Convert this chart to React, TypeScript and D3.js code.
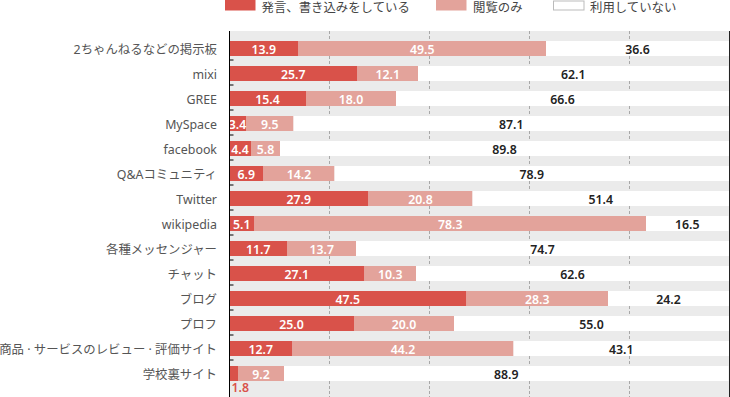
import React from "react";
import * as d3 from "d3";

const categories = [
  "2ちゃんねるなどの掲示板",
  "mixi",
  "GREE",
  "MySpace",
  "facebook",
  "Q&Aコミュニティ",
  "Twitter",
  "wikipedia",
  "各種メッセンジャー",
  "チャット",
  "ブログ",
  "プロフ",
  "商品 · サービスのレビュー · 評価サイト",
  "学校裏サイト",
];
const posting = [13.9, 25.7, 15.4, 3.4, 4.4, 6.9, 27.9, 5.1, 11.7, 27.1, 47.5, 25.0, 12.7, 1.8];
const browsing = [49.5, 12.1, 18.0, 9.5, 5.8, 14.2, 20.8, 78.3, 13.7, 10.3, 28.3, 20.0, 44.2, 9.2];
const notUsing = [36.6, 62.1, 66.6, 87.1, 89.8, 78.9, 51.4, 16.5, 74.7, 62.6, 24.2, 55.0, 43.1, 88.9];
const seriesNames = ["発言、書き込みをしている", "閲覧のみ", "利用していない"];
const gridTicks = [20, 40, 60, 80];

const W = 730;
const H = 397;
const COLORS = ["#d9524a", "#e3a39b", "#ffffff"];
const FONT = "'Noto Sans', 'Noto Sans CJK JP', sans-serif";

export default function App() {
  const x = d3.scaleLinear().domain([0, 100]).range([229, 729]);
  const y = d3
    .scaleBand<string>()
    .domain(categories)
    .range([36, 386])
    .paddingInner(0.4)
    .paddingOuter(0.2);
  const bw = y.bandwidth();

  const rows = categories.map((c, i) => ({
    cat: c,
    vals: [posting[i], browsing[i], notUsing[i]],
  }));
  const stack = d3
    .stack<{ cat: string; vals: number[] }, number>()
    .keys([0, 1, 2])
    .value((d, k) => d.vals[k]);
  const stacked = stack(rows);

  const legendItems = [
    { x: 225, tx: 261.5 },
    { x: 436, tx: 473 },
    { x: 553.5, tx: 590 },
  ];

  return (
    <svg
      width={W}
      height={H}
      style={{ position: "absolute", left: 0, top: 0, fontFamily: FONT }}
    >
      {/* legend */}
      {seriesNames.map((s, i) => (
        <g key={s}>
          <rect
            x={legendItems[i].x}
            y={i === 2 ? 1 : 0}
            width={30.5}
            height={i === 2 ? 9 : 10.5}
            fill={COLORS[i]}
            stroke={i === 2 ? "#bbb" : "none"}
            strokeWidth={1}
          />
          <text
            x={legendItems[i].tx}
            y={7}
            dominantBaseline="central"
            fontSize={12.4}
            fill="#444"
          >
            {s}
          </text>
        </g>
      ))}

      {/* plot background */}
      <rect x={x(0)} y={31} width={x(100) - x(0)} height={H - 31} fill="#ebebeb" />

      {/* grid */}
      {gridTicks.map((t) => (
        <line
          key={t}
          x1={x(t) + 0.5}
          x2={x(t) + 0.5}
          y1={31}
          y2={H}
          stroke="#a8a8a8"
          strokeDasharray="3,2"
        />
      ))}

      {/* bars */}
      {stacked.map((layer, li) =>
        layer.map((seg, ri) => (
          <rect
            key={`${li}-${ri}`}
            x={x(seg[0])}
            y={y(categories[ri])!}
            width={Math.max(0, Math.min(x(seg[1]), x(100)) - x(seg[0]))}
            height={bw}
            fill={COLORS[li]}
          />
        ))
      )}

      {/* value labels */}
      {stacked.map((layer, li) =>
        layer.map((seg, ri) => {
          const v = rows[ri].vals[li];
          const yc = y(categories[ri])! + bw / 2 + 0.5;
          const small = li === 0 && v < 2.5;
          if (small) {
            return (
              <text
                key={`l${li}-${ri}`}
                x={x(seg[0]) + 2.5}
                y={y(categories[ri])! + bw + 6.5}
                dominantBaseline="central"
                fontSize={12.3}
                fontWeight={600}
                fill={COLORS[0]}
              >
                {v.toFixed(1)}
              </text>
            );
          }
          return (
            <text
              key={`l${li}-${ri}`}
              x={(x(seg[0]) + Math.min(x(seg[1]), x(100))) / 2}
              y={yc}
              textAnchor="middle"
              dominantBaseline="central"
              fontSize={12.3}
              fontWeight={600}
              fill={li === 2 ? "#222" : "#fff"}
            >
              {v.toFixed(1)}
            </text>
          );
        })
      )}

      {/* axis */}
      <line x1={x(0) + 0.5} x2={x(0) + 0.5} y1={31} y2={H} stroke="#000" />
      <line x1={x(100) + 0.5} x2={x(100) + 0.5} y1={31} y2={H} stroke="#222" />
      {categories.slice(1).map((c) => (
        <line
          key={`t-${c}`}
          x1={x(0)}
          x2={x(0) + 4.5}
          y1={y(c)! - 6}
          y2={y(c)! - 6}
          stroke="#000"
        />
      ))}

      {/* category labels */}
      {categories.map((c) => (
        <text
          key={`c-${c}`}
          x={217}
          y={y(c)! + bw / 2 + 1}
          textAnchor="end"
          dominantBaseline="central"
          fontSize={12.4}
          fill="#555"
        >
          {c}
        </text>
      ))}
    </svg>
  );
}
